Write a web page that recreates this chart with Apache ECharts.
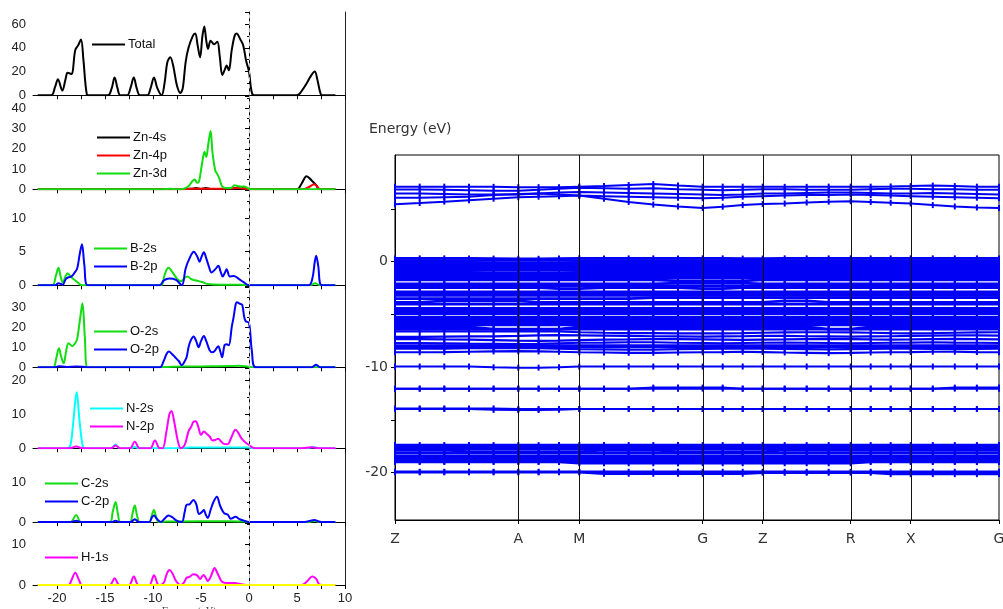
<!DOCTYPE html>
<html><head><meta charset="utf-8">
<script src="https://cdn.jsdelivr.net/npm/echarts@6.0.0/dist/echarts.min.js"></script>
<style>html,body{margin:0;padding:0;background:#fff}#c{width:1003px;height:609px}</style>
</head><body><div id="c"></div>
<script>
// ---------- DOS data (energy eV, states/eV) ----------
const dosTickValues = [-20,-17.5,-15,-12.5,-10,-7.5,-5,-2.5,0,2.5,5,7.5,10];
const dosLabelValues = [-20,-15,-10,-5,0,5,10];

const totalDos = [[-22,0],[-20.6,0],[-20.2,7],[-19.9,13.5],[-19.45,4],[-19.1,14],[-18.9,19],[-18.5,18],[-18.1,38],[-17.8,42],[-17.5,47],[-17.25,30],[-16.9,1],[-16.6,0],[-14.7,0],[-14.3,6],[-14.0,15],[-13.7,6],[-13.4,0],[-12.7,0],[-12.35,6],[-12.0,15],[-11.7,6],[-11.35,0],[-10.6,0],[-10.25,6],[-9.9,15],[-9.55,6],[-9.1,0],[-8.8,10],[-8.5,28],[-8.2,32],[-7.9,25],[-7.5,8],[-7.15,2],[-6.9,6],[-6.6,28],[-6.3,40],[-5.85,50],[-5.6,52],[-5.35,42],[-5.1,32],[-4.85,50],[-4.66,58],[-4.45,46],[-4.27,39],[-4.0,46],[-3.65,43],[-3.3,45],[-3.05,33],[-2.78,17],[-2.5,22],[-2.33,25],[-2.1,21],[-1.8,38],[-1.5,50],[-1.3,52],[-0.9,47],[-0.6,42],[-0.3,29],[0.0,20],[0.25,4],[0.5,0],[5.0,0],[5.6,5],[6.0,10],[6.5,17],[6.85,20],[7.1,14],[7.4,3],[7.6,0],[9.0,0]];

const zn4s = [[-22,0],[-7,0],[-6,0.3],[-5.5,0.6],[-5,0.2],[-4.5,0.6],[-4,0.2],[-3,0.2],[-1.5,0.6],[-1,1],[-0.5,0.4],[0.2,0],[5.0,0],[5.5,3],[6.0,6.5],[6.5,4.5],[7.0,2],[7.3,0],[9,0]];
const zn4p = [[-22,0],[-7,0],[-6,0.3],[-4,0.3],[-2,0.4],[-1,0.6],[-0.3,0.3],[0.3,0],[5.6,0],[6.2,1],[6.8,2.5],[7.1,1.5],[7.4,0],[9,0]];
const zn3d = [[-22,0],[-9,0],[-8.2,0.3],[-7.5,0],[-6.8,0.3],[-6.3,1.5],[-5.9,4],[-5.65,4.8],[-5.4,3.2],[-5.2,4],[-4.85,14],[-4.63,18.5],[-4.45,16],[-4.25,22],[-4.0,28.8],[-3.8,18],[-3.5,9],[-3.3,7.5],[-3.1,5.5],[-2.8,1.5],[-2.4,0.6],[-1.9,0.6],[-1.5,2],[-1.2,1.7],[-0.8,1.3],[-0.5,1.4],[-0.2,0.8],[0.2,0],[9,0]];

const b2s = [[-22,0],[-20.5,0],[-20.1,1.5],[-19.85,2.6],[-19.6,1.2],[-19.4,0.4],[-19.1,1.4],[-18.9,1.8],[-18.5,1.2],[-17.9,0.5],[-17.4,0],[-9.2,0],[-8.8,1.5],[-8.4,2.6],[-8.0,2],[-7.5,1],[-7.1,0.6],[-6.7,1.1],[-6.4,1.3],[-6.0,0.9],[-5.5,0.7],[-4.9,0.5],[-4.3,0.2],[-3.0,0.1],[-1.0,0.1],[0,0],[6.3,0],[6.9,0.3],[7.4,0],[9,0]];
const b2p = [[-22,0],[-20.2,0],[-19.85,0.3],[-19.4,0.1],[-19.1,0.9],[-18.8,1.2],[-18.5,1.3],[-18.2,1.8],[-17.9,2.5],[-17.65,4.5],[-17.4,6.1],[-17.15,3],[-16.8,0],[-9.3,0],[-8.9,0.7],[-8.3,1.0],[-7.6,0.8],[-7.0,0],[-6.6,2.5],[-6.2,4],[-5.75,5.0],[-5.4,4.3],[-5.15,3.5],[-4.95,4.2],[-4.7,4.9],[-4.45,4],[-4.2,2.9],[-3.9,1.9],[-3.5,2.4],[-3.2,2.9],[-2.95,2],[-2.75,1.3],[-2.5,1.9],[-2.33,2.4],[-2.0,1.3],[-1.6,1.4],[-1.1,1.0],[-0.6,0.5],[0.05,0],[6.2,0],[6.6,1],[6.85,3.5],[7.0,4.4],[7.2,3],[7.6,0],[9,0]];

const o2s = [[-22,0],[-20.4,0],[-20.1,4],[-19.8,9.5],[-19.55,5],[-19.3,2],[-19.05,8],[-18.8,12],[-18.4,10.5],[-18.1,12],[-17.9,14],[-17.6,24],[-17.35,31.8],[-17.1,15],[-16.8,0],[-9.5,0],[-8,0.3],[-6,0.4],[-4,0.5],[-2,0.6],[-1,0.8],[0,0.2],[0.5,0],[9,0]];
const o2p = [[-22,0],[-20.2,0],[-19.8,0.5],[-19,0.2],[-18,0.4],[-17.3,0.3],[-16.8,0],[-9.3,0],[-8.9,3],[-8.6,6.5],[-8.35,7.8],[-8.0,6.5],[-7.7,5],[-7.3,3],[-7.0,1],[-6.7,3],[-6.5,5],[-6.3,10],[-6.1,13],[-5.77,15.3],[-5.5,13],[-5.25,10],[-5.0,13],[-4.7,15.5],[-4.45,13],[-4.3,11],[-4.1,8.5],[-3.86,7.5],[-3.6,8],[-3.2,10.5],[-3.0,8],[-2.8,5],[-2.55,11],[-2.33,11.5],[-2.1,11],[-1.8,20],[-1.6,25],[-1.4,31],[-1.27,32.3],[-0.9,31.5],[-0.7,31],[-0.5,25],[-0.35,23],[0.0,22],[0.3,8],[0.7,0],[6.5,0],[7.0,1.3],[7.4,0],[9,0]];

const n2s = [[-22,0],[-19,0],[-18.6,1],[-18.3,8],[-17.95,16.6],[-17.65,8],[-17.3,0.5],[-17.0,0],[-14.4,0],[-13.9,1.1],[-13.5,0],[-12.3,0],[-11.9,0.4],[-11.5,0],[-8,0],[-6,0.2],[-3,0.2],[0,0.2],[0.5,0],[6,0],[6.7,0.4],[7.3,0],[9,0]];
const n2p = [[-22,0],[-18.7,0],[-18.0,0.5],[-17.3,0],[-14.4,0],[-13.9,0.8],[-13.4,0],[-12.4,0],[-11.9,2.0],[-11.4,0],[-10.3,0],[-9.8,2.3],[-9.3,0],[-9.0,0],[-8.6,5],[-8.3,10],[-8.08,11],[-7.8,8],[-7.4,2],[-7.1,0],[-6.7,1],[-6.3,5],[-6.0,6.5],[-5.8,7.8],[-5.55,8],[-5.3,6.5],[-5.0,4],[-4.7,5],[-4.5,4.5],[-4.1,3.5],[-3.8,2.3],[-3.5,2.5],[-3.2,2.8],[-2.9,2],[-2.6,1.3],[-2.3,1.2],[-2.1,1.5],[-1.8,3.5],[-1.4,5.5],[-1.1,4.5],[-0.8,3],[-0.4,1.8],[0.0,1],[0.4,0.2],[0.8,0],[5.5,0],[6.5,0.3],[7.3,0],[9,0]];

const c2s = [[-22,0],[-18.6,0],[-18.0,1.75],[-17.5,0],[-14.5,0],[-14.2,2.5],[-13.9,5],[-13.65,2],[-13.4,0],[-12.4,0],[-12.15,2],[-11.9,4.1],[-11.65,1.5],[-11.4,0],[-10.4,0],[-10.15,1.5],[-9.9,3],[-9.65,1],[-9.4,0],[-8.5,0.1],[-5,0.2],[-2,0.2],[-0.5,0.1],[0,0],[6.3,0],[6.8,0.3],[7.3,0],[9,0]];
const c2p = [[-22,0],[-18.6,0],[-18.0,0.3],[-17.5,0],[-14.3,0],[-13.9,0.3],[-13.5,0],[-12.3,0],[-11.9,0.7],[-11.5,0],[-10.4,0],[-10.1,1.2],[-9.9,1.6],[-9.6,0.8],[-9.2,0],[-8.8,0.8],[-8.4,1.6],[-8.0,1.2],[-7.5,0.3],[-7.0,0],[-6.7,2.5],[-6.5,4.3],[-6.2,4.4],[-5.8,5.5],[-5.5,4.5],[-5.2,2],[-4.9,2.5],[-4.7,3],[-4.5,1.8],[-4.3,1],[-4.0,3],[-3.7,5],[-3.35,6.3],[-3.0,4],[-2.6,2.2],[-2.2,1.8],[-1.9,0.8],[-1.4,1.3],[-1.0,0.7],[-0.5,0.3],[0,0],[5.8,0],[6.4,0.3],[6.8,0.5],[7.2,0.2],[7.5,0],[9,0]];

const h1s = [[-22,0],[-18.8,0],[-18.5,1.2],[-18.1,3.05],[-17.7,1.2],[-17.4,0],[-14.5,0],[-14.0,1.7],[-13.5,0],[-12.5,0],[-12.0,2.1],[-11.5,0],[-10.4,0],[-9.9,2.4],[-9.4,0],[-8.9,0.5],[-8.6,2.5],[-8.3,3.7],[-8.0,3],[-7.6,1],[-7.1,0],[-6.8,0.5],[-6.5,1.8],[-6.2,2],[-5.8,2.7],[-5.4,2.4],[-5.1,1.5],[-4.75,2.5],[-4.5,1.8],[-4.3,1],[-4.0,2],[-3.8,3.2],[-3.6,4.2],[-3.3,3],[-3.0,1.5],[-2.8,0.8],[-2.3,0.5],[-1.5,0.5],[-0.8,0.2],[0,0],[5.5,0],[6.0,0.8],[6.6,2.1],[7.0,1.5],[7.3,0.2],[7.6,0],[9,0]];
const hBase = [[-22,0],[9,0]];

// ---------- Band structure data ----------
const kPath = [0,0.247,0.493,0.740,0.986,1.233, 1.436,1.640,1.843, 2.090,2.337,2.583,2.830,3.077, 3.277,3.477,3.677, 3.897,4.117,4.337,4.557, 4.757,4.957,5.157, 5.378,5.598,5.819,6.040];
const kSymPos = [0,1.233,1.843,3.077,3.677,4.557,5.157,6.040];
const kSymNames = ['Z','A','M','G','Z','R','X','G'];
const bandTickValues = [-20,-15,-10,-5,0,5];
const bandLabelValues = [-20,-10,0];

const conductionBands = [
 [5.43,5.55,5.68,5.82,5.96,6.10, 6.15,6.20,6.25, 5.95,5.65,5.40,5.22,5.07, 5.20,5.35,5.45, 5.50,5.60,5.68,5.72, 5.65,5.58,5.50, 5.35,5.22,5.12,5.07],
 [6.05,6.05,6.10,6.15,6.30,6.40, 6.45,6.35,6.25, 6.20,6.15,6.10,6.05,6.00, 6.05,6.15,6.20, 6.25,6.30,6.30,6.35, 6.30,6.25,6.20, 6.15,6.10,6.05,6.00],
 [6.45,6.45,6.40,6.35,6.35,6.35, 6.45,6.55,6.60, 6.55,6.50,6.45,6.40,6.35, 6.30,6.35,6.45, 6.45,6.50,6.55,6.55, 6.50,6.45,6.45, 6.50,6.45,6.40,6.35],
 [6.82,6.82,6.80,6.75,6.70,6.72, 6.80,6.90,7.00, 6.95,6.90,6.95,6.85,6.80, 6.75,6.80,6.85, 6.85,6.80,6.80,6.80, 6.85,6.90,6.90, 6.85,6.85,6.80,6.80],
 [7.10,7.10,7.10,7.10,7.08,7.05, 7.05,7.05,7.10, 7.15,7.25,7.35,7.20,7.10, 7.10,7.10,7.10, 7.08,7.08,7.10,7.10, 7.10,7.12,7.15, 7.20,7.15,7.10,7.10]
];

const valenceBands = [
 [0.30,0.30,0.30,0.30,0.28,0.26, 0.26,0.28,0.30, 0.30,0.30,0.30,0.30,0.30, 0.30,0.28,0.28, 0.30,0.30,0.30,0.30, 0.30,0.30,0.30, 0.30,0.30,0.30,0.30],
 [0.08,0.08,0.08,0.08,0.10,0.12, 0.12,0.10,0.08, 0.08,0.08,0.08,0.08,0.08, 0.08,0.08,0.08, 0.08,0.08,0.08,0.08, 0.08,0.08,0.08, 0.08,0.08,0.08,0.08],
 [-0.12,-0.12,-0.12,-0.12,-0.12,-0.12, -0.12,-0.12,-0.12, -0.12,-0.12,-0.12,-0.12,-0.12, -0.12,-0.12,-0.12, -0.12,-0.12,-0.12,-0.12, -0.12,-0.12,-0.12, -0.12,-0.12,-0.12,-0.12],
 [-0.30,-0.30,-0.30,-0.30,-0.30,-0.30, -0.30,-0.30,-0.30, -0.30,-0.30,-0.30,-0.30,-0.30, -0.30,-0.30,-0.30, -0.30,-0.30,-0.30,-0.30, -0.30,-0.30,-0.30, -0.30,-0.30,-0.30,-0.30],
 [-0.48,-0.48,-0.48,-0.48,-0.48,-0.48, -0.48,-0.48,-0.48, -0.48,-0.48,-0.48,-0.48,-0.48, -0.48,-0.48,-0.48, -0.48,-0.48,-0.48,-0.48, -0.48,-0.48,-0.48, -0.48,-0.48,-0.48,-0.48],
 [-0.66,-0.66,-0.66,-0.66,-0.66,-0.66, -0.66,-0.66,-0.66, -0.66,-0.66,-0.66,-0.66,-0.66, -0.66,-0.66,-0.66, -0.66,-0.66,-0.66,-0.66, -0.66,-0.66,-0.66, -0.66,-0.66,-0.66,-0.66],
 [-0.84,-0.84,-0.84,-0.84,-0.84,-0.84, -0.84,-0.84,-0.84, -0.84,-0.84,-0.84,-0.84,-0.84, -0.84,-0.84,-0.84, -0.84,-0.84,-0.84,-0.84, -0.84,-0.84,-0.84, -0.84,-0.84,-0.84,-0.84],
 [-1.02,-1.02,-1.02,-1.02,-1.10,-1.10, -1.10,-1.10,-1.02, -1.02,-1.02,-1.02,-1.02,-1.02, -1.02,-1.02,-1.02, -1.02,-1.02,-1.02,-1.02, -1.02,-1.02,-1.02, -1.02,-1.02,-1.02,-1.02],
 [-1.20,-1.20,-1.20,-1.20,-1.20,-1.20, -1.20,-1.20,-1.20, -1.20,-1.20,-1.20,-1.20,-1.20, -1.20,-1.20,-1.20, -1.20,-1.20,-1.20,-1.20, -1.20,-1.20,-1.20, -1.20,-1.20,-1.20,-1.20],
 [-1.38,-1.38,-1.38,-1.38,-1.38,-1.38, -1.38,-1.38,-1.38, -1.38,-1.38,-1.38,-1.38,-1.38, -1.38,-1.38,-1.38, -1.38,-1.38,-1.38,-1.38, -1.38,-1.38,-1.38, -1.38,-1.38,-1.38,-1.38],
 [-1.56,-1.56,-1.56,-1.56,-1.56,-1.56, -1.56,-1.56,-1.56, -1.56,-1.56,-1.56,-1.56,-1.56, -1.56,-1.56,-1.56, -1.56,-1.56,-1.56,-1.56, -1.56,-1.56,-1.56, -1.56,-1.56,-1.56,-1.56],
 [-1.74,-1.74,-1.74,-1.74,-1.74,-1.74, -1.74,-1.74,-1.74, -1.74,-1.74,-1.74,-1.84,-1.84, -1.84,-1.84,-1.74, -1.74,-1.74,-1.74,-1.74, -1.74,-1.74,-1.74, -1.74,-1.74,-1.74,-1.74],
 [-2.12,-2.12,-2.12,-2.12,-2.12,-2.12, -2.12,-2.12,-2.12, -2.12,-2.12,-2.12,-2.04,-2.04, -2.04,-2.04,-2.12, -2.12,-2.12,-2.12,-2.12, -2.12,-2.12,-2.12, -2.12,-2.12,-2.12,-2.12],
 [-2.30,-2.30,-2.30,-2.30,-2.30,-2.30, -2.30,-2.30,-2.30, -2.30,-2.30,-2.30,-2.30,-2.30, -2.30,-2.30,-2.30, -2.30,-2.30,-2.30,-2.30, -2.30,-2.30,-2.30, -2.30,-2.30,-2.30,-2.30],
 [-2.48,-2.48,-2.48,-2.48,-2.48,-2.48, -2.48,-2.56,-2.56, -2.48,-2.48,-2.48,-2.48,-2.56, -2.56,-2.48,-2.48, -2.48,-2.48,-2.48,-2.48, -2.48,-2.48,-2.48, -2.48,-2.48,-2.48,-2.48],
 [-2.88,-2.88,-2.88,-2.88,-2.88,-2.88, -2.88,-2.88,-2.88, -2.88,-2.88,-2.88,-2.88,-2.88, -2.88,-2.88,-2.88, -2.88,-2.88,-2.88,-2.88, -2.88,-2.88,-2.88, -2.88,-2.88,-2.88,-2.88],
 [-3.06,-3.06,-3.06,-3.06,-3.06,-3.06, -3.06,-3.06,-3.06, -3.06,-3.06,-3.06,-3.06,-3.06, -3.06,-3.06,-3.06, -3.06,-3.06,-3.06,-3.06, -3.06,-3.06,-3.06, -3.06,-3.06,-3.06,-3.06],
 [-3.22,-3.22,-3.22,-3.22,-3.22,-3.22, -3.22,-3.22,-3.22, -3.22,-3.22,-3.22,-3.22,-3.22, -3.22,-3.22,-3.22, -3.22,-3.22,-3.22,-3.22, -3.22,-3.22,-3.22, -3.22,-3.22,-3.22,-3.22],
 [-3.52,-3.52,-3.52,-3.52,-3.52,-3.52, -3.52,-3.52,-3.52, -3.52,-3.52,-3.42,-3.42,-3.42, -3.42,-3.42,-3.42, -3.42,-3.42,-3.42,-3.42, -3.42,-3.42,-3.42, -3.42,-3.42,-3.42,-3.42],
 [-3.86,-3.86,-3.72,-3.72,-3.72,-3.72, -3.86,-3.86,-3.86, -3.86,-3.86,-3.86,-3.86,-3.86, -3.86,-3.86,-3.86, -3.72,-3.72,-3.86,-3.86, -3.86,-3.86,-3.86, -3.86,-3.86,-3.86,-3.86],
 [-4.04,-4.04,-4.04,-4.04,-4.04,-4.04, -4.04,-4.04,-4.04, -4.04,-4.04,-4.04,-4.04,-4.04, -4.04,-4.04,-4.04, -4.04,-4.04,-4.04,-4.04, -4.04,-4.04,-4.04, -4.04,-4.04,-4.04,-4.04],
 [-4.44,-4.44,-4.44,-4.44,-4.44,-4.44, -4.44,-4.44,-4.44, -4.44,-4.44,-4.44,-4.44,-4.44, -4.44,-4.44,-4.44, -4.44,-4.44,-4.44,-4.44, -4.44,-4.44,-4.44, -4.44,-4.44,-4.44,-4.44],
 [-4.62,-4.62,-4.62,-4.62,-4.62,-4.62, -4.62,-4.62,-4.62, -4.62,-4.62,-4.62,-4.62,-4.62, -4.62,-4.62,-4.62, -4.62,-4.62,-4.62,-4.62, -4.62,-4.62,-4.62, -4.62,-4.62,-4.62,-4.62],
 [-4.80,-4.80,-4.80,-4.80,-4.80,-4.80, -4.80,-4.80,-4.80, -4.80,-4.80,-4.80,-4.80,-4.80, -4.80,-4.80,-4.80, -4.80,-4.80,-4.80,-4.80, -4.80,-4.80,-4.80, -4.80,-4.80,-4.80,-4.80],
 [-4.96,-4.96,-4.96,-4.96,-4.96,-4.96, -4.96,-4.96,-4.96, -4.96,-4.96,-4.96,-4.96,-4.96, -4.96,-4.96,-4.96, -4.96,-4.96,-4.96,-4.96, -4.96,-4.96,-4.96, -4.96,-4.96,-4.96,-4.96],
 [-5.28,-5.28,-5.28,-5.28,-5.28,-5.28, -5.28,-5.28,-5.28, -5.28,-5.28,-5.28,-5.28,-5.28, -5.28,-5.28,-5.28, -5.28,-5.28,-5.28,-5.28, -5.28,-5.28,-5.28, -5.28,-5.28,-5.28,-5.28],
 [-5.46,-5.46,-5.46,-5.46,-5.46,-5.46, -5.46,-5.46,-5.46, -5.46,-5.46,-5.46,-5.46,-5.46, -5.46,-5.46,-5.46, -5.46,-5.46,-5.46,-5.46, -5.46,-5.46,-5.46, -5.46,-5.46,-5.46,-5.46],
 [-5.64,-5.64,-5.64,-5.64,-5.64,-5.64, -5.64,-5.64,-5.64, -5.64,-5.64,-5.64,-5.64,-5.64, -5.64,-5.64,-5.64, -5.64,-5.64,-5.64,-5.64, -5.64,-5.64,-5.64, -5.64,-5.64,-5.64,-5.64],
 [-5.82,-5.82,-5.82,-5.82,-5.82,-5.82, -5.82,-5.82,-5.82, -5.82,-5.82,-5.82,-5.82,-5.82, -5.82,-5.82,-5.82, -5.82,-5.82,-5.82,-5.82, -5.82,-5.82,-5.82, -5.82,-5.82,-5.82,-5.82],
 [-6.00,-6.00,-6.00,-6.00,-6.00,-6.00, -6.00,-6.00,-6.00, -6.00,-6.00,-6.00,-6.00,-6.00, -6.00,-6.00,-6.00, -6.00,-6.00,-6.00,-6.00, -6.00,-6.00,-6.00, -6.00,-6.00,-6.00,-6.00],
 [-6.20,-6.20,-6.20,-6.20,-6.40,-6.40, -6.40,-6.40,-6.20, -6.20,-6.20,-6.20,-6.20,-6.20, -6.20,-6.20,-6.20, -6.20,-6.20,-6.40,-6.40, -6.20,-6.20,-6.20, -6.20,-6.20,-6.20,-6.20],
 [-6.42,-6.42,-6.42,-6.42,-6.42,-6.42, -6.42,-6.42,-6.42, -6.42,-6.42,-6.42,-6.42,-6.42, -6.42,-6.42,-6.42, -6.42,-6.42,-6.42,-6.42, -6.42,-6.42,-6.42, -6.42,-6.42,-6.42,-6.42]
];

const middleBands = [
 [-6.62,-6.62,-6.62,-6.62,-6.62,-6.62, -6.62,-6.62,-6.70, -6.75,-6.78,-6.78,-6.80,-6.80, -6.80,-6.78,-6.75, -6.72,-6.70,-6.70,-6.72, -6.75,-6.78,-6.80, -6.78,-6.75,-6.72,-6.70],
 [-7.15,-7.15,-7.12,-7.10,-7.10,-7.05, -7.00,-6.98,-7.00, -7.02,-7.05,-7.08,-7.10,-7.12, -7.10,-7.08,-7.05, -7.05,-7.08,-7.10,-7.12, -7.10,-7.08,-7.05, -7.02,-7.00,-7.00,-7.02],
 [-7.35,-7.35,-7.38,-7.40,-7.45,-7.50, -7.52,-7.50,-7.45, -7.40,-7.38,-7.35,-7.35,-7.38, -7.40,-7.42,-7.40, -7.38,-7.35,-7.33,-7.35, -7.38,-7.40,-7.38, -7.35,-7.33,-7.35,-7.38],
 [-7.72,-7.72,-7.75,-7.78,-7.80,-7.82, -7.80,-7.75,-7.70, -7.68,-7.65,-7.65,-7.70,-7.72, -7.75,-7.72,-7.70, -7.68,-7.70,-7.72,-7.75, -7.72,-7.70,-7.68, -7.65,-7.68,-7.70,-7.72],
 [-7.95,-7.95,-7.95,-7.95,-7.95,-7.95, -7.95,-7.95,-7.95, -7.95,-7.95,-7.95,-7.95,-7.95, -7.95,-7.95,-7.95, -7.95,-7.95,-7.95,-7.95, -7.95,-7.95,-7.95, -7.95,-7.95,-7.95,-7.95],
 [-8.10,-8.10,-8.10,-8.10,-8.10,-8.10, -8.10,-8.10,-8.10, -8.10,-8.10,-8.10,-8.10,-8.10, -8.10,-8.10,-8.10, -8.10,-8.10,-8.10,-8.10, -8.10,-8.10,-8.10, -8.10,-8.10,-8.10,-8.10],
 [-8.25,-8.25,-8.25,-8.22,-8.20,-8.18, -8.20,-8.25,-8.30, -8.32,-8.35,-8.35,-8.30,-8.28, -8.25,-8.25,-8.25, -8.28,-8.30,-8.32,-8.30, -8.28,-8.25,-8.25, -8.28,-8.30,-8.28,-8.25],
 [-8.60,-8.60,-8.58,-8.55,-8.52,-8.50, -8.52,-8.55,-8.60, -8.62,-8.65,-8.65,-8.62,-8.60, -8.58,-8.55,-8.58, -8.62,-8.65,-8.68,-8.65, -8.62,-8.60,-8.58, -8.55,-8.55,-8.58,-8.60]
];

const isolatedBands = [
 [-9.95,-9.95,-9.95,-9.95,-10.02,-10.06, -10.06,-10.02,-9.96, -9.95,-9.95,-9.95,-9.95,-9.95, -9.95,-9.95,-9.95, -9.95,-9.95,-9.95,-9.95, -9.95,-9.95,-9.95, -9.95,-9.95,-9.95,-9.95],
 [-12.05,-12.05,-12.05,-12.05,-12.05,-12.05, -12.05,-12.05,-12.05, -12.05,-12.05,-12.05,-12.05,-12.05, -12.05,-12.05,-12.05, -12.05,-12.05,-12.05,-12.05, -12.05,-12.05,-12.05, -12.05,-12.05,-12.05,-12.05],
 [-12.05,-12.05,-12.05,-12.05,-12.05,-12.05, -12.05,-12.05,-12.05, -12.05,-12.05,-11.95,-11.95,-11.95, -11.95,-12.05,-12.05, -12.05,-12.05,-12.05,-12.05, -12.05,-12.05,-12.05, -12.05,-11.95,-11.95,-11.95],
 [-13.98,-13.98,-13.98,-13.98,-14.06,-14.08, -14.08,-14.04,-13.98, -13.98,-13.98,-13.98,-13.98,-13.98, -13.98,-13.98,-13.98, -13.98,-13.98,-13.98,-13.98, -13.98,-13.98,-13.98, -13.98,-13.98,-13.98,-13.98],
 [-13.92,-13.92,-13.92,-13.92,-13.92,-13.98, -13.98,-13.98,-13.98, -13.98,-13.98,-13.98,-13.98,-13.98, -13.98,-13.98,-13.98, -13.98,-13.98,-13.98,-13.98, -13.98,-13.98,-13.98, -13.98,-13.98,-13.98,-13.98]
];

const deepBands = [
 [-17.40,-17.40,-17.40,-17.40,-17.40,-17.40, -17.40,-17.40,-17.40, -17.40,-17.40,-17.40,-17.40,-17.40, -17.40,-17.40,-17.40, -17.40,-17.40,-17.40,-17.40, -17.40,-17.40,-17.40, -17.40,-17.40,-17.40,-17.40],
 [-17.57,-17.57,-17.57,-17.57,-17.57,-17.57, -17.57,-17.57,-17.57, -17.57,-17.57,-17.57,-17.57,-17.57, -17.57,-17.57,-17.57, -17.57,-17.57,-17.57,-17.57, -17.57,-17.57,-17.57, -17.57,-17.57,-17.57,-17.57],
 [-17.74,-17.74,-17.74,-17.74,-17.74,-17.74, -17.74,-17.74,-17.74, -17.74,-17.74,-17.74,-17.74,-17.74, -17.74,-17.74,-17.74, -17.74,-17.74,-17.74,-17.74, -17.74,-17.74,-17.74, -17.74,-17.74,-17.74,-17.74],
 [-17.90,-17.90,-17.90,-18.00,-18.00,-18.00, -18.00,-18.00,-18.00, -17.90,-17.90,-17.90,-18.00,-18.00, -18.00,-18.00,-18.00, -17.90,-17.90,-17.90,-17.90, -17.90,-17.90,-17.90, -17.90,-17.90,-17.90,-17.90],
 [-18.15,-18.15,-18.15,-18.15,-18.15,-18.15, -18.15,-18.15,-18.15, -18.15,-18.15,-18.15,-18.15,-18.15, -18.15,-18.15,-18.15, -18.15,-18.15,-18.15,-18.15, -18.15,-18.15,-18.15, -18.15,-18.15,-18.15,-18.15],
 [-18.42,-18.42,-18.42,-18.42,-18.42,-18.42, -18.42,-18.42,-18.42, -18.42,-18.42,-18.42,-18.42,-18.42, -18.42,-18.42,-18.42, -18.42,-18.42,-18.42,-18.42, -18.42,-18.42,-18.42, -18.42,-18.42,-18.42,-18.42],
 [-18.60,-18.60,-18.60,-18.60,-18.60,-18.60, -18.60,-18.60,-18.60, -18.60,-18.60,-18.60,-18.60,-18.60, -18.60,-18.60,-18.60, -18.60,-18.60,-18.60,-18.60, -18.60,-18.60,-18.60, -18.60,-18.60,-18.60,-18.60],
 [-18.78,-18.78,-18.78,-18.78,-18.78,-18.78, -18.78,-18.78,-18.78, -18.78,-18.78,-18.78,-18.78,-18.78, -18.78,-18.78,-18.78, -18.78,-18.78,-18.78,-18.78, -18.78,-18.78,-18.78, -18.78,-18.78,-18.78,-18.78],
 [-18.95,-18.95,-18.95,-18.95,-18.95,-18.95, -18.95,-18.95,-18.95, -18.95,-18.95,-18.95,-18.95,-18.95, -18.95,-18.95,-18.95, -18.95,-18.95,-18.95,-18.95, -18.95,-18.95,-18.95, -18.95,-18.95,-18.95,-18.95],
 [-19.00,-19.00,-19.00,-19.00,-19.00,-19.00, -19.00,-19.00,-19.12, -19.12,-19.12,-19.12,-19.12,-19.12, -19.12,-19.12,-19.12, -19.12,-19.12,-19.12,-19.12, -19.00,-19.00,-19.00, -19.00,-19.00,-19.00,-19.00],
 [-19.93,-19.93,-19.93,-19.93,-19.93,-19.93, -19.93,-19.93,-19.93, -19.93,-19.93,-19.93,-19.93,-19.93, -19.93,-19.93,-19.93, -19.93,-19.93,-19.93,-19.93, -19.93,-19.93,-19.93, -19.93,-19.93,-19.93,-19.93],
 [-19.98,-19.98,-19.98,-19.98,-19.98,-19.98, -19.98,-19.98,-19.98, -20.12,-20.12,-20.12,-20.12,-20.12, -20.12,-20.12,-20.02, -20.02,-20.02,-20.02,-20.02, -20.02,-20.15,-20.15, -20.15,-20.15,-20.15,-20.15]
];

// ---------- styling / layout ----------
const GREEN = '#11dd11', BLUE = '#0000ff', CYAN = '#00ffff', MAGENTA = '#ff00ff', BAND = '#0000f5';
const dosFont = 'Liberation Sans, Arial, sans-serif';
const bandFont = 'DejaVu Sans, Verdana, sans-serif';

const panels = [
 {top:12,  height:83.3, max:70.1,  step:20, lg:[92,38],  series:[['Total', totalDos, '#000000']]},
 {top:96,  height:93.3, max:46.1,  step:10, lg:[97,131], series:[['Zn-4s', zn4s, '#000000'],['Zn-4p', zn4p, '#ff0000'],['Zn-3d', zn3d, GREEN]]},
 {top:190, height:95.3, max:14.16, step:5,  lg:[94,242], series:[['B-2s', b2s, GREEN],['B-2p', b2p, BLUE]]},
 {top:286, height:81.3, max:40.4,  step:10, lg:[94,325], series:[['O-2s', o2s, GREEN],['O-2p', o2p, BLUE]]},
 {top:368, height:80.3, max:23.76, step:10, lg:[90,402], series:[['N-2s', n2s, CYAN],['N-2p', n2p, MAGENTA]]},
 {top:449, height:73,   max:18.25, step:10, lg:[45,477], series:[['C-2s', c2s, GREEN],['C-2p', c2p, BLUE]]},
 {top:523, height:62,   max:15.4,  step:10, lg:[45,551], series:[['H-1s', h1s, MAGENTA],['H-base', hBase, '#ffff00']]}
];

const grid = [], xAxis = [], yAxis = [], series = [], legend = [];
const NP = panels.length;
panels.forEach((p, i) => {
  grid.push({left:33, top:p.top, width:312, height:p.height, outerBoundsMode:'none', containLabel:false});
  xAxis.push({
    gridIndex:i, type:'value', min:-22.5, max:10,
    axisLine:{show:true, onZero:false, lineStyle:{color:'#000', width:1}},
    axisTick:{show:true, customValues:dosTickValues, length:4, lineStyle:{color:'#000'}},
    axisLabel:{show:i===NP-1, customValues:dosLabelValues, fontSize:13, color:'#222', fontFamily:dosFont, margin:7},
    splitLine:{show:false},
    name: i===NP-1 ? 'Energy (eV)' : '', nameLocation:'middle', nameGap:22,
    nameTextStyle:{fontFamily:'DejaVu Serif, serif', fontSize:9, color:'#444'}
  });
  const step = p.step, top = p.max;
  yAxis.push({
    gridIndex:i, type:'value', min:0, max:p.max, interval:step,
    axisLine:{show:true, lineStyle:{color:'#000', width:1}},
    axisTick:{show:true, length:4, lineStyle:{color:'#000'}},
    minorTick:{show:true, splitNumber:2, length:2, lineStyle:{color:'#000'}},
    axisLabel:{fontSize:13, color:'#222', fontFamily:dosFont, margin:7,
      formatter:(v)=> (Math.abs(v/step - Math.round(v/step)) < 1e-6 && (top - v) / top > 0.05 ? String(v) : '')},
    splitLine:{show:false}, minorSplitLine:{show:false}
  });
  p.series.forEach(([name, data, color], j) => {
    const s = {
      type:'line', name, xAxisIndex:i, yAxisIndex:i, data,
      smooth:0.35, symbol:'none', lineStyle:{color, width:2}, itemStyle:{color},
      silent:true, animation:false, z:3+j
    };
    if (j === 0) {
      s.markLine = {silent:true, symbol:['none','none'], label:{show:false},
        lineStyle:{color:'#bdbdbd', type:[4,3], width:1}, data:[{xAxis:0}]};
    }
    series.push(s);
  });
  legend.push({
    left:p.lg[0], top:p.lg[1], orient:'vertical', icon:'rect', itemWidth:33, itemHeight:2, itemGap:5,
    selectedMode:false, padding:0,
    data:p.series.map(s=>s[0]).filter(n=>n!=='H-base'),
    textStyle:{fontSize:13, color:'#111', fontFamily:dosFont, padding:[0,0,0,-2]}
  });
});
// right borders of DOS panels
panels.forEach((p, i) => {
  yAxis.push({gridIndex:i, type:'value', position:'right', min:0, max:p.max,
    axisLine:{show:true, lineStyle:{color:'#222', width:1}}, axisTick:{show:false},
    axisLabel:{show:false}, splitLine:{show:false}});
});

// band structure grid
const BG = NP;
grid.push({left:395, top:155, width:604, height:365, show:true, borderColor:'#000', borderWidth:1,
  outerBoundsMode:'none', containLabel:false});
xAxis.push({
  gridIndex:BG, type:'value', min:0, max:kSymPos[kSymPos.length-1],
  axisLine:{show:true, onZero:false, lineStyle:{color:'#000'}},
  axisTick:{show:true, customValues:kSymPos, length:4, lineStyle:{color:'#000'}},
  axisLabel:{customValues:kSymPos, fontSize:14, color:'#333', fontFamily:bandFont, margin:12,
    hideOverlap:false, showMaxLabel:true, showMinLabel:true,
    formatter:(v)=>{ const k = kSymPos.findIndex(x=>Math.abs(x-v)<1e-6); return k>=0 ? kSymNames[k] : ''; }},
  splitLine:{show:false}
});
yAxis.push({
  gridIndex:BG, type:'value', min:-24.5, max:10.1,
  axisLine:{show:true, onZero:false, lineStyle:{color:'#000'}},
  axisTick:{show:true, customValues:bandTickValues, length:4, lineStyle:{color:'#000'}},
  axisLabel:{customValues:bandLabelValues, fontSize:14, color:'#333', fontFamily:bandFont, margin:7},
  splitLine:{show:false}
});
const bandYIndex = yAxis.length - 1;
const bandGroups = [
  [conductionBands, 2], [valenceBands, 2.7], [middleBands, 2.2], [isolatedBands, 2], [deepBands, 2.5]
];
let first = true;
bandGroups.forEach(([group, lw]) => {
  group.forEach((b) => {
    const s = {
      type:'line', xAxisIndex:BG, yAxisIndex:bandYIndex,
      data:kPath.map((k, j) => [k, b[j]]),
      symbol:'rect', symbolSize:[2,6], showSymbol:true, showAllSymbol:true,
      lineStyle:{color:BAND, width:lw}, itemStyle:{color:BAND},
      silent:true, animation:false, z:2
    };
    if (first) {
      s.markLine = {silent:true, symbol:['none','none'], label:{show:false},
        lineStyle:{color:'#111', type:'solid', width:1},
        data:kSymPos.slice(1, -1).map(k => ({xAxis:k}))};
      first = false;
    }
    series.push(s);
  });
});

const chart = echarts.init(document.getElementById('c'), null, {renderer:'canvas'});
chart.setOption({
  animation:false,
  backgroundColor:'#ffffff',
  title:{text:'Energy (eV)', left:369, top:122, padding:0,
    textStyle:{fontSize:14, fontWeight:'normal', color:'#333', fontFamily:bandFont}},
  grid, xAxis, yAxis, legend, series
});
</script></body></html>
